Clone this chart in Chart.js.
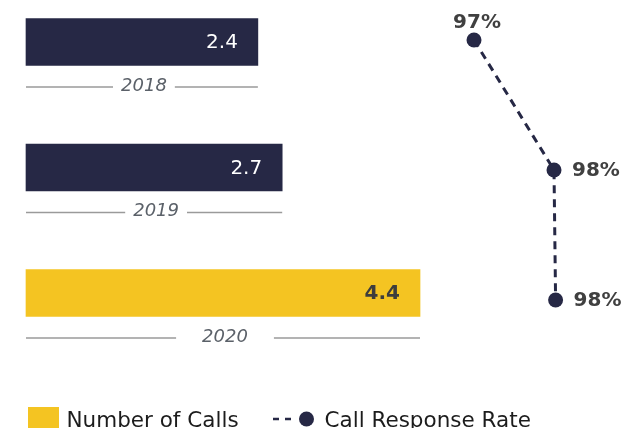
<!DOCTYPE html>
<html>
<head>
<meta charset="utf-8">
<title>Calls and response rate</title>
<script src="https://cdn.jsdelivr.net/npm/chart.js@4"></script>
<style>
  html, body { margin: 0; padding: 0; background: #fff; }
  canvas { display: block; }
</style>
</head>
<body>
<canvas id="calls" width="623" height="428"></canvas>
<script>
const years = ['2018', '2019', '2020'];
const calls = [2.4, 2.7, 4.4];
const responseRate = [97.4, 98.4, 98.42];
const barColors = ['#262845', '#262845', '#F4C422'];

const navy = '#262845';
const yellow = '#F4C422';
const font = '"DejaVu Sans", Verdana, sans-serif';

// left edge of the bar scale, bars grow from here
const xMin = -0.46;

// value labels on bars and on the rate points
const valueLabels = {
  id: 'valueLabels',
  afterDatasetsDraw(chart) {
    const ctx = chart.ctx;
    ctx.save();
    ctx.textBaseline = 'middle';

    chart.getDatasetMeta(0).data.forEach((bar, i) => {
      const dark = barColors[i] === navy;
      ctx.font = (dark ? '' : 'bold ') + '20px ' + font;
      ctx.fillStyle = dark ? '#ffffff' : '#3d3d3d';
      ctx.textAlign = 'right';
      ctx.fillText(calls[i].toFixed(1), bar.x - 20, bar.y + 1);
    });

    ctx.font = 'bold 20px ' + font;
    ctx.fillStyle = '#404040';
    chart.getDatasetMeta(1).data.forEach((pt, i) => {
      const txt = Math.round(responseRate[i]) + '%';
      if (i === 0) {
        ctx.textAlign = 'center';
        ctx.textBaseline = 'alphabetic';
        ctx.fillText(txt, pt.x + 3, pt.y - 12);
      } else {
        ctx.textAlign = 'left';
        ctx.textBaseline = 'middle';
        ctx.fillText(txt, pt.x + 18, pt.y + 1);
      }
    });
    ctx.restore();
  }
};

// year caption under each bar with a rule on both sides
const yearRules = {
  id: 'yearRules',
  afterDatasetsDraw(chart) {
    const ctx = chart.ctx;
    ctx.save();
    ctx.font = 'italic 18px ' + font;
    ctx.fillStyle = '#5b6169';
    ctx.strokeStyle = '#9a9a9a';
    ctx.lineWidth = 1.5;
    ctx.textAlign = 'center';
    ctx.textBaseline = 'middle';
    chart.getDatasetMeta(0).data.forEach((bar, i) => {
      const left = bar.base;
      const right = bar.x;
      const mid = (left + right) / 2 + 2;
      const y = bar.y + 44;
      const w = ctx.measureText(years[i]).width;
      const gap = i === 2 ? 26 : 8;
      ctx.fillText(years[i], mid, y);
      ctx.beginPath();
      ctx.moveTo(left, y + 1);
      ctx.lineTo(mid - w / 2 - gap, y + 1);
      ctx.moveTo(mid + w / 2 + gap, y + 1);
      ctx.lineTo(right, y + 1);
      ctx.stroke();
    });
    ctx.restore();
  }
};

// legend along the bottom edge
const bottomLegend = {
  id: 'bottomLegend',
  afterDraw(chart) {
    const ctx = chart.ctx;
    ctx.save();
    ctx.fillStyle = yellow;
    ctx.fillRect(28, 407, 31, 30);

    ctx.font = '21.5px ' + font;
    ctx.fillStyle = '#1c1c1c';
    ctx.textBaseline = 'alphabetic';
    ctx.textAlign = 'left';
    ctx.fillText('Number of Calls', 66.5, 426.5);

    ctx.strokeStyle = navy;
    ctx.lineWidth = 2.5;
    ctx.setLineDash([6, 6]);
    ctx.beginPath();
    ctx.moveTo(273, 419);
    ctx.lineTo(292, 419);
    ctx.stroke();
    ctx.setLineDash([]);
    ctx.fillStyle = navy;
    ctx.beginPath();
    ctx.arc(306.5, 419, 7.5, 0, Math.PI * 2);
    ctx.fill();

    ctx.fillStyle = '#1c1c1c';
    ctx.fillText('Call Response Rate', 324.5, 426.5);
    ctx.restore();
  }
};

new Chart(document.getElementById('calls'), {
  data: {
    labels: years,
    datasets: [{
      type: 'bar',
      label: 'Number of Calls',
      data: calls,
      base: xMin,
      backgroundColor: barColors,
      barThickness: 47,
      grouped: false,
      xAxisID: 'x',
      yAxisID: 'y',
      clip: false
    }, {
      type: 'line',
      label: 'Call Response Rate',
      data: responseRate.map((r, i) => ({ x: r, y: i })),
      xAxisID: 'x2',
      yAxisID: 'y2',
      borderColor: navy,
      borderWidth: 3,
      borderDash: [8, 6],
      pointRadius: 7.5,
      pointBackgroundColor: navy,
      pointBorderWidth: 0,
      tension: 0,
      clip: false
    }]
  },
  options: {
    indexAxis: 'y',
    responsive: false,
    animation: false,
    layout: { padding: { left: 26, right: 23, top: 42, bottom: 135 } },
    plugins: {
      legend: { display: false },
      tooltip: { enabled: false }
    },
    scales: {
      y: { type: 'category', offset: false, display: false },
      y2: { type: 'linear', reverse: true, min: 0.0154, max: 1.946, display: false },
      x: { type: 'linear', min: xMin, max: 6.62, display: false },
      x2: { type: 'linear', min: 91.8, max: 98.975, display: false }
    }
  },
  plugins: [valueLabels, yearRules, bottomLegend]
});
</script>
</body>
</html>
